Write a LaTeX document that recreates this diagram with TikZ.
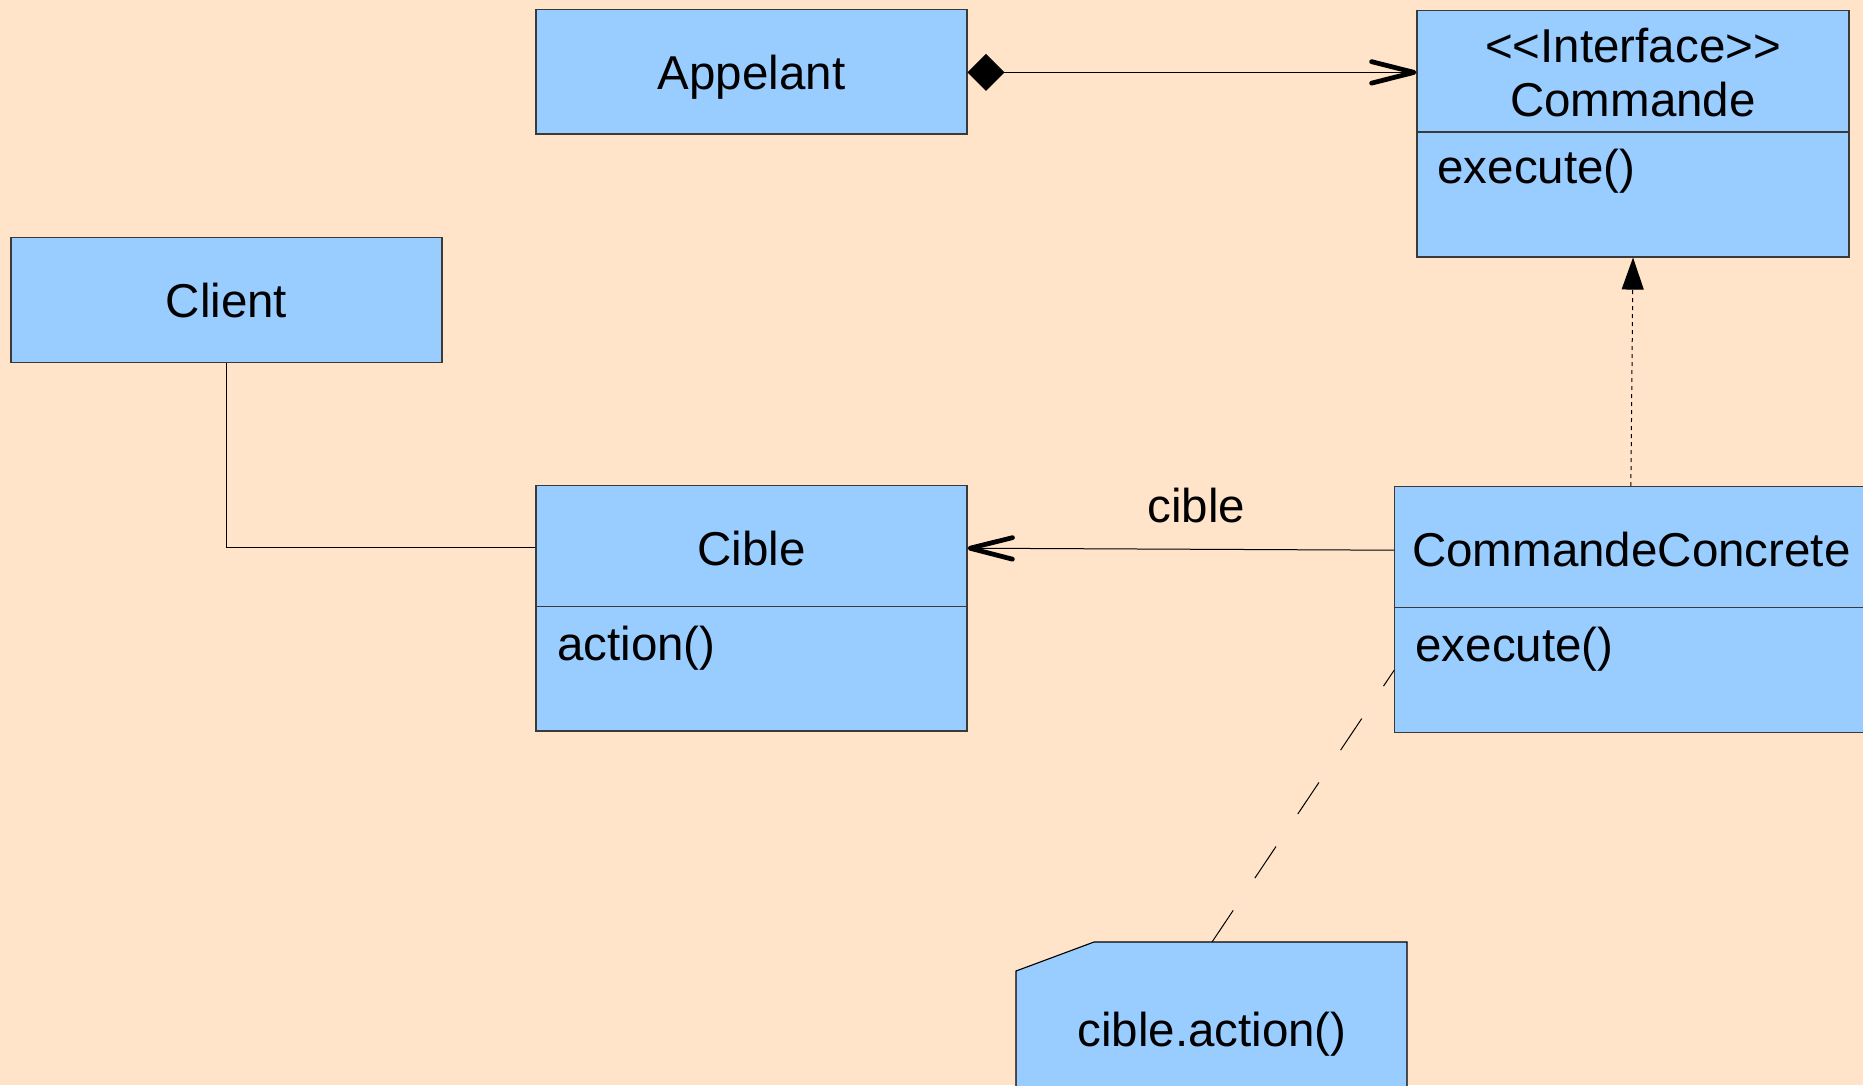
\documentclass[tikz,border=0pt]{standalone}
\usepackage{fontspec}
\setmainfont{Liberation Sans}[Ligatures=TeXOff]
\usetikzlibrary{fit,arrows.meta}

\definecolor{page}{HTML}{FFE4C9}
\definecolor{boxblue}{HTML}{99CCFF}
\definecolor{boxline}{HTML}{3A3A3A}

\tikzset{
  box/.style={draw=boxline, fill=boxblue, line width=0.45pt, inner sep=0pt},
  lbl/.style={font=\fontsize{19}{21.6}\selectfont, inner sep=0pt, text=black},
  link/.style={draw=black, line width=0.4pt},
  barb/.tip={Straight Barb[length=17pt, width=8.6pt, line width=1.9pt, round]},
}

\begin{document}
\begin{tikzpicture}[x=0.4pt, y=-0.4pt]
  % page
  \fill[page] (0,0) rectangle (1863,1085);
  \useasboundingbox (0,0) rectangle (1863,1085);
  \clip (0,0) rectangle (1863,1085);

  % classes
  \node[box, fit={(536,9.3)(967,134)}] (appelant) {};
  \node[lbl, anchor=base] (appelantT) at (751.5,89.3) {Appelant};

  \node[box, fit={(1417,10.7)(1849,132)}] (cmdHead) {};
  \node[box, fit={(1417,132)(1849,257)}] (cmdBody) {};
  \node[lbl, anchor=base] (cmdT1) at (1633,62.7) {<<Interface>>};
  \node[lbl, anchor=base] (cmdT2) at (1633,116.7) {Commande};
  \node[lbl, anchor=base west] (cmdOp) at (1437,183.3) {execute()};

  \node[box, fit={(11,237.5)(442,362.5)}] (client) {};
  \node[lbl, anchor=base] (clientT) at (226.5,317) {Client};

  \node[box, fit={(536,485.7)(967,606.7)}] (cibleHead) {};
  \node[box, fit={(536,606.7)(967,731)}] (cibleBody) {};
  \node[lbl, anchor=base] (cibleT) at (751.5,565) {Cible};
  \node[lbl, anchor=base west] (cibleOp) at (556.7,660) {action()};

  \node[box, fit={(1394.7,486.7)(1867,607.7)}] (ccHead) {};
  \node[box, fit={(1394.7,607.7)(1867,732.7)}] (ccBody) {};
  \node[lbl, anchor=base west] (ccT) at (1411.7,566.7) {CommandeConcrete};
  \node[lbl, anchor=base west] (ccOp) at (1415,661) {execute()};

  % note with folded corner
  \filldraw[draw=black, fill=boxblue, line width=0.45pt]
    (1016,971) -- (1094,942) -- (1407,942) -- (1407,1100) -- (1016,1100) -- cycle;
  \coordinate (noteTop) at (1212,942);
  \node[lbl, anchor=base] (noteT) at (1212,1046.7) {cible.action()};

  % Appelant aggregates Commande
  \draw[link, {Diamond[length=14.8pt, width=14.8pt]}-barb]
    ([yshift=-0.3pt]appelant.east) -- ([yshift=-0.3pt]appelant.east -| cmdHead.west);

  % CommandeConcrete realises Commande
  \draw[link, dash pattern=on 1.6pt off 1.6pt, -{Triangle[length=12.8pt, width=8.8pt]}]
    (ccHead.north) -- (cmdBody.south);

  % CommandeConcrete knows its Cible
  \draw[link, -barb] ([yshift=-1.2pt]ccHead.west) -- ([yshift=-0.8pt]cibleHead.east);
  \node[lbl, anchor=base] (cibleLbl) at (1196.5,522.7) {cible};

  % Client uses Cible
  \draw[link] (client.south) |- ([yshift=-0.7pt]cibleHead.west);

  % note attached to CommandeConcrete
  \draw[link, dash pattern=on 15.2pt off 15.6pt] (noteTop) -- (ccBody.west);
\end{tikzpicture}
\end{document}
